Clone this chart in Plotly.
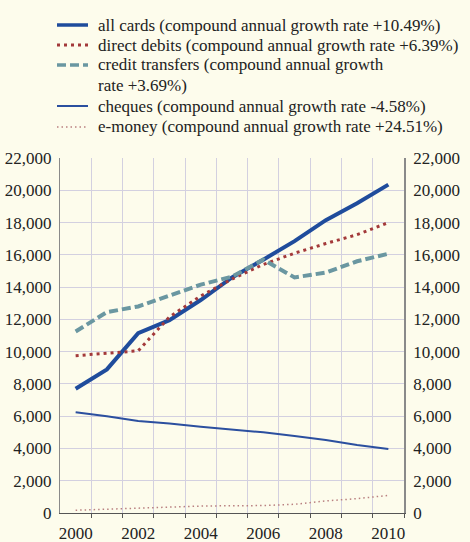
import plotly.graph_objects as go

years = list(range(2000, 2011))
all_cards = [7700, 8900, 11150, 11950, 13200, 14600, 15700, 16850, 18150, 19200, 20350]
direct_debits = [9750, 9900, 10050, 12150, 13450, 14500, 15400, 16100, 16700, 17250, 18000]
credit_transfers = [11250, 12450, 12800, 13500, 14150, 14650, 15700, 14600, 14900, 15600, 16070]
cheques = [6250, 6000, 5700, 5550, 5350, 5180, 5000, 4770, 4520, 4210, 3960]
e_money = [170, 230, 330, 390, 430, 450, 460, 540, 750, 890, 1090]

legend_lines = [
    ["all cards (compound annual growth rate +10.49%)"],
    ["direct debits (compound annual growth rate +6.39%)"],
    ["credit transfers (compound annual growth", "rate +3.69%)"],
    ["cheques (compound annual growth rate -4.58%)"],
    ["e-money (compound annual growth rate +24.51%)"],
]
x_tick_years = [2000, 2002, 2004, 2006, 2008, 2010]
x_grid = [y + 0.5 for y in range(2000, 2011)]
y_ticks = list(range(0, 22001, 2000))

BG = "#fdfcec"
GRID = "#d3d0e0"
AXIS = "#8a8a8a"
FONT = "Liberation Serif"
FS = 17
TXT = "#222222"

W, H = 470, 542
ML, MR, MT, MB = 60, 66, 158, 29
PW, PH = W - ML - MR, H - MT - MB


def px_x(px):
    return (px - ML) / PW


def px_y(py):
    return (H - MB - py) / PH


styles = [
    dict(color="#1f4c9c", width=4),
    dict(color="#a3393a", width=3, dash="3px,4px"),
    dict(color="#6a97a1", width=4, dash="9px,4px"),
    dict(color="#2b4f9f", width=2),
    dict(color="#b98080", width=1.5, dash="1.5px,3px"),
]
series = [all_cards, direct_debits, credit_transfers, cheques, e_money]

fig = go.Figure()
for lines, vals, st in zip(legend_lines, series, styles):
    fig.add_trace(go.Scatter(x=years, y=vals, name=" ".join(lines), mode="lines",
                             line=st, showlegend=False))
# invisible trace to activate the right-hand axis
fig.add_trace(go.Scatter(x=[years[0]], y=[all_cards[0]], yaxis="y2", mode="lines",
                         showlegend=False, hoverinfo="skip", opacity=0))

# hand-made legend (sample line + text)
row_y = [25, 45, 65, 106, 127]
shapes = []
annotations = []
for i, (lines, st) in enumerate(zip(legend_lines, styles)):
    yy = row_y[i]
    shapes.append(dict(type="line", xref="paper", yref="paper",
                       x0=px_x(57), x1=px_x(88), y0=px_y(yy), y1=px_y(yy),
                       line=dict(color=st["color"], width=min(st["width"], 3.5),
                                 dash=st.get("dash", "solid"))))
    for j, t in enumerate(lines):
        annotations.append(dict(text=t, xref="paper", yref="paper",
                                x=px_x(96), y=px_y(yy + 20 * j), xanchor="left",
                                yanchor="middle", showarrow=False,
                                font=dict(family=FONT, size=FS, color=TXT)))

tf = dict(family=FONT, size=FS, color=TXT)
fig.update_layout(
    width=W, height=H,
    paper_bgcolor=BG, plot_bgcolor=BG,
    margin=dict(l=ML, r=MR, t=MT, b=MB, autoexpand=False),
    font=tf,
    showlegend=False,
    shapes=shapes,
    annotations=annotations,
    xaxis=dict(
        range=[1999.5, 2010.5], tickmode="array", tickvals=x_tick_years,
        ticktext=[str(v) for v in x_tick_years], showgrid=False, ticks="",
        showline=True, linecolor="#555555", linewidth=1, zeroline=False,
        tickfont=tf, ticklabelstandoff=5, automargin=False,
        minor=dict(tickmode="array", tickvals=x_grid, showgrid=True, gridcolor=GRID,
                   gridwidth=1, ticks="outside", ticklen=4, tickcolor="#555555"),
    ),
    yaxis=dict(
        range=[0, 22000], tickmode="array", tickvals=y_ticks,
        tickformat=",", showgrid=True, gridcolor=GRID, gridwidth=1,
        showline=True, linecolor=AXIS, linewidth=1, zeroline=False, ticks="",
        ticklabelstandoff=4, tickfont=tf, automargin=False,
    ),
    yaxis2=dict(
        overlaying="y", side="right", range=[0, 22000],
        tickmode="array", tickvals=y_ticks, tickformat=",", showgrid=False,
        showline=True, linecolor=AXIS, linewidth=1.5, zeroline=False, ticks="",
        ticklabelstandoff=4, tickfont=tf, automargin=False,
    ),
)

fig.write_html("out.html")
